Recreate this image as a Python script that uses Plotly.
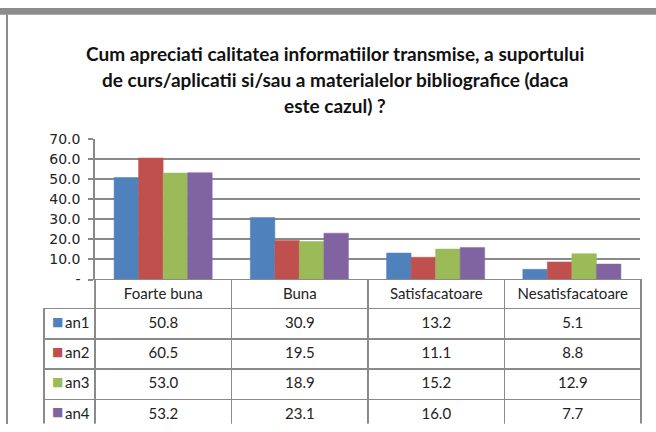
import plotly.graph_objects as go

# data
categories = ["Foarte buna", "Buna", "Satisfacatoare", "Nesatisfacatoare"]
series_names = ["an1", "an2", "an3", "an4"]
an1 = [50.8, 30.9, 13.2, 5.1]
an2 = [60.5, 19.5, 11.1, 8.8]
an3 = [53.0, 18.9, 15.2, 12.9]
an4 = [53.2, 23.1, 16.0, 7.7]
series_values = [an1, an2, an3, an4]
colors = ["#4F81BD", "#C0504D", "#9BBB59", "#8064A2"]
y_ticks = [0, 10, 20, 30, 40, 50, 60, 70]
y_ticktext = ["-", "10.0", "20.0", "30.0", "40.0", "50.0", "60.0", "70.0"]
title_lines = [
    "Cum apreciati calitatea informatiilor transmise, a suportului",
    "de curs/aplicatii si/sau a materialelor bibliografice (daca",
    "este cazul) ?",
]

W, H = 656, 432
grid = "#8a8a8a"
clear = "rgba(0,0,0,0)"
font_txt = "Lato, Calibri, sans-serif"


def px_x(p):
    return p / W


def px_y(p):
    return (H - p) / H


fig = go.Figure()

for name, vals, col in zip(series_names, series_values, colors):
    fig.add_trace(go.Bar(x=categories, y=vals, name=name,
                         marker=dict(color=col, line=dict(color=col, width=0.5)),
                         hoverinfo="x+y+name"))

# data table under the bars; first column holds the coloured legend keys
table_cols = [["■"] * len(series_names)]
for i in range(len(categories)):
    table_cols.append([f"{v[i]:.1f}" for v in series_values])
key_colors = [colors] + [["#222"] * len(series_names)] * len(categories)

fig.add_trace(go.Table(
    domain=dict(x=[px_x(44), px_x(641)], y=[0, px_y(282)]),
    columnwidth=[51, 136.25, 136.25, 136.25, 136.25],
    header=dict(values=[""] + categories, height=29,
                line=dict(color=[clear, grid, grid, grid, grid], width=1.5),
                fill=dict(color=[clear, "white", "white", "white", "white"]),
                align="center",
                font=dict(family=font_txt, size=15, color="#222")),
    cells=dict(values=table_cols, height=30.25,
               line=dict(color=grid, width=1.5),
               fill=dict(color="white"), align=["left", "center"],
               font=dict(family=["DejaVu Sans", font_txt],
                         size=[12, 15, 15, 15, 15], color=key_colors)),
    hoverinfo="skip",
))

# series names next to the keys (transparent overlay table, same row heights)
fig.add_trace(go.Table(
    domain=dict(x=[px_x(57), px_x(96)], y=[0, px_y(282)]),
    header=dict(values=[""], height=29, line=dict(color=clear),
                fill=dict(color=clear)),
    cells=dict(values=[series_names], height=30.25, line=dict(color=clear),
               fill=dict(color=clear), align="left",
               font=dict(family=font_txt, size=15, color="#222")),
    hoverinfo="skip",
))

# title, one annotation per line to keep the wide line spacing
for k, line in enumerate(title_lines):
    fig.add_annotation(text=f"<b>{line}</b>", x=px_x(335), y=px_y(47 + 27 * k),
                       xref="paper", yref="paper", showarrow=False,
                       xanchor="center", yanchor="middle",
                       font=dict(family=font_txt, size=19, color="#111"))

fig.update_layout(
    width=W, height=H,
    margin=dict(l=0, r=0, t=0, b=0),
    paper_bgcolor="white", plot_bgcolor="white",
    barmode="group", bargap=0.28, bargroupgap=0,
    showlegend=False,
    xaxis=dict(domain=[px_x(95), px_x(640)], showticklabels=False,
               showgrid=False, zeroline=False, showline=False, ticks=""),
    yaxis=dict(domain=[px_y(282), px_y(136)], range=[0, 70],
               tickvals=y_ticks, ticktext=y_ticktext,
               showgrid=True, gridcolor=grid, gridwidth=1.5,
               showline=True, linecolor=grid, linewidth=1.5,
               ticks="outside", ticklen=5, tickcolor=grid, tickwidth=1.5,
               ticklabelstandoff=5, zeroline=False,
               tickfont=dict(family="DejaVu Sans", size=14, color="#222")),
    shapes=[
        dict(type="rect", xref="paper", yref="paper", x0=0, x1=1,
             y0=px_y(7), y1=1, fillcolor="#8c8c8c", line=dict(width=0)),
        dict(type="line", xref="paper", yref="paper", x0=px_x(7), x1=px_x(7),
             y0=0, y1=px_y(7), line=dict(color="#8c8c8c", width=2)),
    ],
)

fig.write_html("out.html", config={"displayModeBar": False},
               post_script="document.body.style.margin='0';")
